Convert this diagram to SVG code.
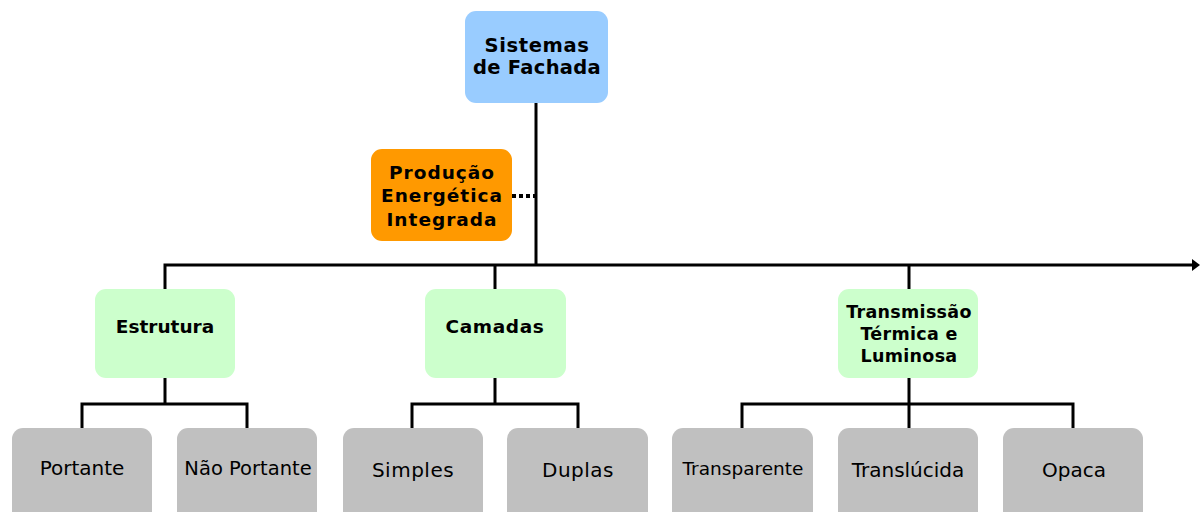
<svg xmlns="http://www.w3.org/2000/svg" width="1200" height="512" viewBox="0 0 1200 512">
<style>
.t{font-family:"DejaVu Sans",Verdana,sans-serif;fill:#000;text-anchor:middle;dominant-baseline:central}
.b{font-weight:bold}
.leaf rect{fill:#c0c0c0}
.mid rect{fill:#ccffcc}
.ln{stroke:#000;stroke-width:3;fill:none}
</style>
<defs>
<marker id="arr" markerWidth="8" markerHeight="12" refX="2" refY="6" orient="auto" markerUnits="userSpaceOnUse">
<path d="M0,0 L8,6 L0,12 Z" fill="#000"/>
</marker>
</defs>
<rect width="1200" height="512" fill="#fff"/>
<g id="connectors">
<path class="ln" d="M536,103 V265"/>
<path d="M512,196 H535" stroke="#000" stroke-width="4" stroke-dasharray="4,3" fill="none"/>
<path class="ln" d="M165,289 V265 H1194" marker-end="url(#arr)"/>
<path class="ln" d="M495,265 V289 M909,265 V289"/>
<path class="ln" d="M165,378 V404 M82,428 V404 H247 V428"/>
<path class="ln" d="M495,378 V404 M412,428 V404 H578 V428"/>
<path class="ln" d="M909,378 V428 M742,428 V404 H1073 V428"/>
</g>
<g id="sistemas"><rect x="465" y="11" width="143" height="92" rx="11" fill="#99ccff"/>
<text class="t b" x="537" y="45" font-size="19.5" letter-spacing="0.6">Sistemas</text>
<text class="t b" x="537" y="67" font-size="19.5" letter-spacing="0.3">de Fachada</text></g>
<g id="producao"><rect x="371" y="149" width="141" height="92" rx="11" fill="#ff9900"/>
<text class="t b" x="442" y="172" font-size="18.5" letter-spacing="1">Produção</text>
<text class="t b" x="442" y="195" font-size="18.5" letter-spacing="1">Energética</text>
<text class="t b" x="442" y="219" font-size="18.5" letter-spacing="1">Integrada</text></g>
<g id="estrutura" class="mid"><rect x="95" y="289" width="140" height="89" rx="11"/>
<text class="t b" x="165" y="326" font-size="18.5">Estrutura</text></g>
<g id="camadas" class="mid"><rect x="425" y="289" width="141" height="89" rx="11"/>
<text class="t b" x="495" y="326" font-size="18.5" letter-spacing="0.6">Camadas</text></g>
<g id="transmissao" class="mid"><rect x="838" y="289" width="140" height="89" rx="11"/>
<text class="t b" x="909" y="312" font-size="17.5" letter-spacing="0.3">Transmissão</text>
<text class="t b" x="909" y="334" font-size="17.5" letter-spacing="0.3">Térmica e</text>
<text class="t b" x="909" y="356" font-size="17.5" letter-spacing="0.3">Luminosa</text></g>
<g id="portante" class="leaf"><rect x="12" y="428" width="140" height="95" rx="11"/>
<text class="t" x="82" y="468" font-size="20">Portante</text></g>
<g id="naoportante" class="leaf"><rect x="177" y="428" width="140" height="95" rx="11"/>
<text class="t" x="248" y="468" font-size="19.5">Não Portante</text></g>
<g id="simples" class="leaf"><rect x="343" y="428" width="140" height="95" rx="11"/>
<text class="t" x="413" y="470" font-size="20" letter-spacing="0.5">Simples</text></g>
<g id="duplas" class="leaf"><rect x="507" y="428" width="141" height="95" rx="11"/>
<text class="t" x="578" y="470" font-size="20" letter-spacing="0.5">Duplas</text></g>
<g id="transparente" class="leaf"><rect x="672" y="428" width="141" height="95" rx="11"/>
<text class="t" x="743" y="468" font-size="18.5">Transparente</text></g>
<g id="translucida" class="leaf"><rect x="838" y="428" width="140" height="95" rx="11"/>
<text class="t" x="908" y="470" font-size="20">Translúcida</text></g>
<g id="opaca" class="leaf"><rect x="1003" y="428" width="140" height="95" rx="11"/>
<text class="t" x="1074" y="470" font-size="20">Opaca</text></g>
</svg>
